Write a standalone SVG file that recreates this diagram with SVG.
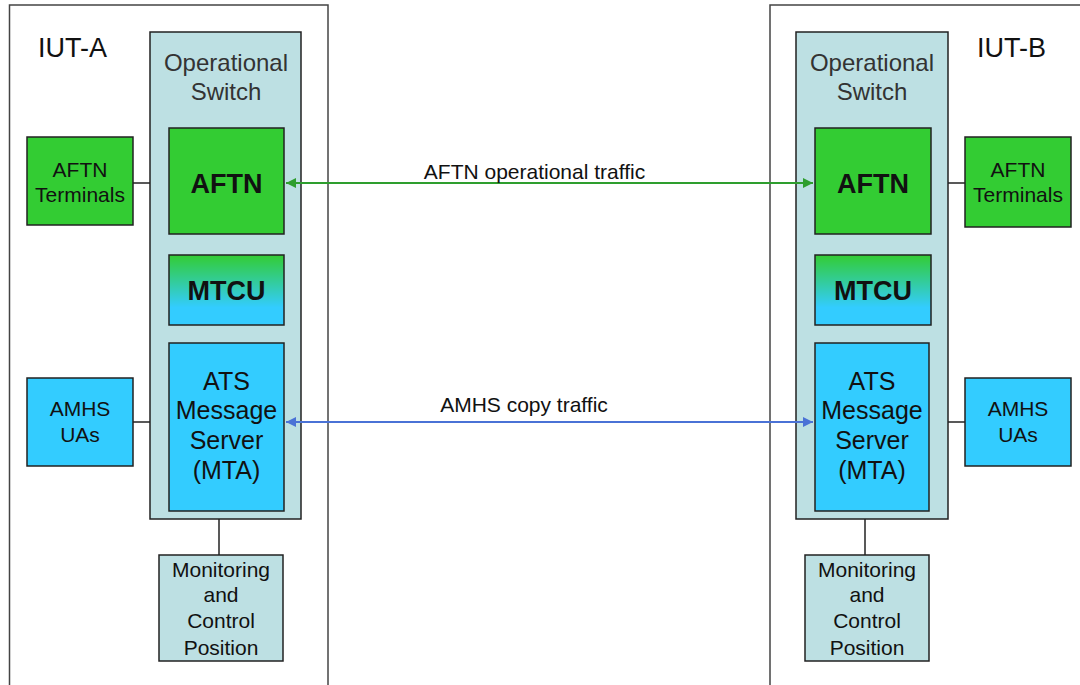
<svg xmlns="http://www.w3.org/2000/svg" width="1080" height="685" viewBox="0 0 1080 685">
  <defs>
    <linearGradient id="mtcuFill" x1="0" y1="0" x2="0" y2="1">
      <stop offset="0" stop-color="#33cc33"/>
      <stop offset="0.75" stop-color="#33ccff"/>
      <stop offset="1" stop-color="#33ccff"/>
    </linearGradient>
    <marker id="arrGreen" viewBox="0 0 10 10" refX="10" refY="5" markerWidth="5" markerHeight="5" orient="auto-start-reverse" markerUnits="strokeWidth">
      <path d="M0,0 L10,5 L0,10 Z" fill="#2e9e2e"/>
    </marker>
    <marker id="arrBlue" viewBox="0 0 10 10" refX="10" refY="5" markerWidth="5" markerHeight="5" orient="auto-start-reverse" markerUnits="strokeWidth">
      <path d="M0,0 L10,5 L0,10 Z" fill="#4a72d6"/>
    </marker>
  </defs>
  <style>
    text { font-family: "Liberation Sans", Arial, sans-serif; fill: #111; text-anchor: middle; }
    .frame { fill: #ffffff; stroke: #444; stroke-width: 1.5; }
    .box { stroke: #222; stroke-width: 1.5; }
    .switch { fill: #bde0e3; }
    .green { fill: #33cc33; }
    .blue { fill: #33ccff; }
    .mtcu { fill: url(#mtcuFill); }
    .mon { fill: #bde0e3; }
    .link { stroke: #222; stroke-width: 1.5; fill: none; }
    .title { font-size: 27px; text-anchor: start; }
    .sw { font-size: 24px; fill: #333; }
    .big { font-size: 27px; font-weight: bold; }
    .mid { font-size: 25px; }
    .small { font-size: 21px; }
    .lbl { font-size: 21px; }
  </style>

  <rect width="1080" height="685" fill="#ffffff"/>

  <!-- implementation frames -->
  <g id="iut-a">
    <rect class="frame" x="9.5" y="5" width="318.5" height="700"/>
    <text class="title" x="38" y="57">IUT-A</text>
  </g>
  <g id="iut-b">
    <rect class="frame" x="770" y="5" width="330" height="700"/>
    <text class="title" x="977" y="57">IUT-B</text>
  </g>

  <!-- connectors -->
  <g id="connectors">
    <!-- side A internal links -->
    <line class="link" x1="133" y1="183" x2="169" y2="183"/>
    <line class="link" x1="133" y1="422" x2="169" y2="422"/>
    <line class="link" x1="223" y1="234" x2="223" y2="255"/>
    <line class="link" x1="222" y1="325" x2="222" y2="343"/>
    <line class="link" x1="219" y1="519" x2="219" y2="555"/>
    <!-- side B internal links -->
    <line class="link" x1="931" y1="183" x2="965" y2="183"/>
    <line class="link" x1="929" y1="422" x2="965" y2="422"/>
    <line class="link" x1="868" y1="234" x2="868" y2="255"/>
    <line class="link" x1="868" y1="325" x2="868" y2="343"/>
    <line class="link" x1="865" y1="519" x2="865" y2="555"/>
  </g>

  <!-- side A nodes -->
  <g id="switch-a">
    <rect class="box switch" x="150" y="32" width="151" height="487"/>
    <text class="sw" x="226" y="71">Operational</text>
    <text class="sw" x="226" y="100">Switch</text>
  </g>
  <g id="aftn-a">
    <rect class="box green" x="169" y="128" width="115" height="106"/>
    <text class="big" x="226.5" y="193">AFTN</text>
  </g>
  <g id="mtcu-a">
    <rect class="box mtcu" x="169" y="255" width="115" height="70"/>
    <text class="big" x="226.5" y="300">MTCU</text>
  </g>
  <g id="ats-a">
    <rect class="box blue" x="169" y="343" width="115" height="168"/>
    <text class="mid" x="226.5" y="390">ATS</text>
    <text class="mid" x="226.5" y="419">Message</text>
    <text class="mid" x="226.5" y="449">Server</text>
    <text class="mid" x="226.5" y="479">(MTA)</text>
  </g>
  <g id="aftn-terminals-a">
    <rect class="box green" x="27" y="137" width="106" height="88"/>
    <text class="small" x="80" y="177">AFTN</text>
    <text class="small" x="80" y="202">Terminals</text>
  </g>
  <g id="amhs-uas-a">
    <rect class="box blue" x="27" y="378" width="106" height="88"/>
    <text class="small" x="80" y="416">AMHS</text>
    <text class="small" x="80" y="442">UAs</text>
  </g>
  <g id="monitoring-a">
    <rect class="box mon" x="159" y="555" width="124" height="106"/>
    <text class="small" x="221" y="577">Monitoring</text>
    <text class="small" x="221" y="602">and</text>
    <text class="small" x="221" y="628">Control</text>
    <text class="small" x="221" y="655">Position</text>
  </g>

  <!-- side B nodes -->
  <g id="switch-b">
    <rect class="box switch" x="796" y="32" width="152" height="487"/>
    <text class="sw" x="872" y="71">Operational</text>
    <text class="sw" x="872" y="100">Switch</text>
  </g>
  <g id="aftn-b">
    <rect class="box green" x="815" y="128" width="116" height="106"/>
    <text class="big" x="873" y="193">AFTN</text>
  </g>
  <g id="mtcu-b">
    <rect class="box mtcu" x="815" y="255" width="116" height="70"/>
    <text class="big" x="873" y="300">MTCU</text>
  </g>
  <g id="ats-b">
    <rect class="box blue" x="815" y="343" width="114" height="168"/>
    <text class="mid" x="872" y="390">ATS</text>
    <text class="mid" x="872" y="419">Message</text>
    <text class="mid" x="872" y="449">Server</text>
    <text class="mid" x="872" y="479">(MTA)</text>
  </g>
  <g id="aftn-terminals-b">
    <rect class="box green" x="965" y="137" width="106" height="90"/>
    <text class="small" x="1018" y="177">AFTN</text>
    <text class="small" x="1018" y="202">Terminals</text>
  </g>
  <g id="amhs-uas-b">
    <rect class="box blue" x="965" y="378" width="106" height="88"/>
    <text class="small" x="1018" y="416">AMHS</text>
    <text class="small" x="1018" y="442">UAs</text>
  </g>
  <g id="monitoring-b">
    <rect class="box mon" x="805" y="555" width="124" height="106"/>
    <text class="small" x="867" y="577">Monitoring</text>
    <text class="small" x="867" y="602">and</text>
    <text class="small" x="867" y="628">Control</text>
    <text class="small" x="867" y="655">Position</text>
  </g>

  <!-- inter-system traffic -->
  <g id="traffic">
    <line x1="286" y1="183" x2="813" y2="183" stroke="#2e9e2e" stroke-width="2" marker-start="url(#arrGreen)" marker-end="url(#arrGreen)"/>
    <text class="lbl" x="534.5" y="179">AFTN operational traffic</text>
    <line x1="286" y1="422" x2="813" y2="422" stroke="#4a72d6" stroke-width="2" marker-start="url(#arrBlue)" marker-end="url(#arrBlue)"/>
    <text class="lbl" x="524" y="412">AMHS copy traffic</text>
  </g>
</svg>
